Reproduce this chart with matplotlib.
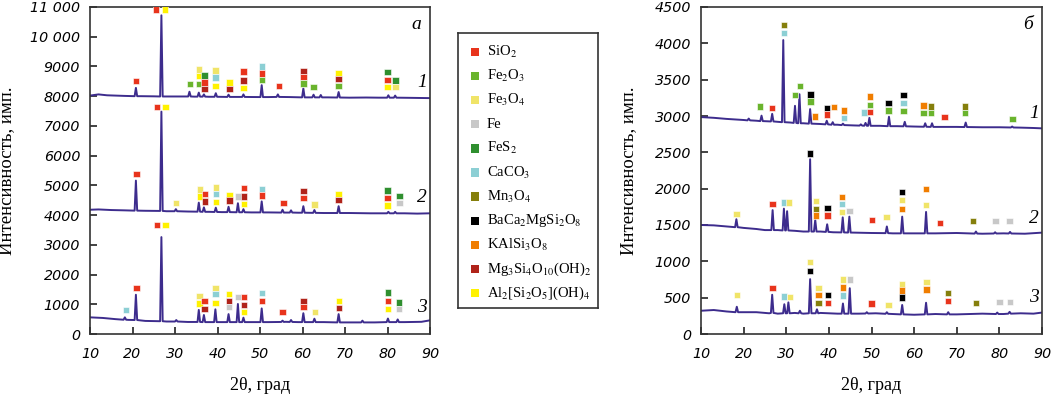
import os
import matplotlib
import matplotlib.pyplot as plt
from matplotlib import font_manager as fm

plt.rcParams['font.family'] = 'Liberation Serif'
plt.rcParams['mathtext.fontset'] = 'stix'

# phases (legend order)
phase_keys = ['SiO2', 'Fe2O3', 'Fe3O4', 'Fe', 'FeS2', 'CaCO3', 'Mn3O4',
              'BaCa', 'KAl', 'Mg', 'Al']
phase_labels = ['SiO$_2$', 'Fe$_2$O$_3$', 'Fe$_3$O$_4$', 'Fe', 'FeS$_2$',
                'CaCO$_3$', 'Mn$_3$O$_4$', 'BaCa$_2$MgSi$_2$O$_8$',
                'KAlSi$_3$O$_8$', 'Mg$_3$Si$_4$O$_{10}$(OH)$_2$',
                'Al$_2$[Si$_2$O$_5$](OH)$_4$']
phase_colors = ['#e8341c', '#6ab42d', '#f0e468', '#c8c8c8', '#2f8f2f',
                '#8ccfd4', '#857f0c', '#000000', '#f07d00', '#b0231a', '#fff200']

x_ticks = [10, 20, 30, 40, 50, 60, 70, 80, 90]
a_yticks = [0, 1000, 2000, 3000, 4000, 5000, 6000, 7000, 8000, 9000, 10000, 11000]
a_ylabels = ['0', '1000', '2000', '3000', '4000', '5000', '6000', '7000',
             '8000', '9000', '10 000', '11 000']
b_yticks = [0, 500, 1000, 1500, 2000, 2500, 3000, 3500, 4000, 4500]

# ---- panel a: baseline knots (2theta, counts) and peaks (pos, foot, top)
a1_bg = [(10, 8020), (12, 8060), (14, 8030), (18, 8010), (22, 8000), (25, 7995),
         (30, 7990), (34.5, 7985), (38, 7980), (44, 7975), (48, 7972), (52, 7970),
         (57, 7970), (66, 7960), (71, 7950), (75, 7955), (78, 7950), (85, 7945), (90, 7935)]
a1_peaks = [(20.8, 8000, 8280), (26.8, 7990, 10720), (33.4, 7990, 8150),
            (35.6, 7985, 8120), (36.8, 7985, 8060), (39.6, 7980, 8100),
            (42.6, 7975, 8050), (46.1, 7975, 8060), (50.4, 7970, 8370),
            (54.2, 7975, 8060), (60.2, 7960, 8260), (62.6, 7960, 8050),
            (64.3, 7960, 8040), (68.5, 7955, 8140), (80.2, 7950, 8030),
            (81.8, 7950, 8020)]

a2_bg = [(10, 4180), (12, 4190), (15, 4170), (18, 4160), (23, 4145), (28, 4130),
         (33, 4120), (38, 4110), (41, 4100), (48, 4090), (52, 4090), (59, 4080),
         (65, 4070), (71, 4070), (76, 4060), (84, 4060), (87, 4050), (90, 4060)]
a2_peaks = [(20.8, 4150, 5160), (26.8, 4140, 7480), (30.2, 4130, 4200),
            (35.6, 4115, 4420), (36.8, 4110, 4260), (39.6, 4105, 4250),
            (42.6, 4100, 4280), (44.8, 4095, 4400), (46.1, 4095, 4200),
            (50.4, 4090, 4460), (55.3, 4085, 4180), (57.3, 4085, 4160),
            (60.2, 4080, 4300), (62.8, 4075, 4170), (68.5, 4070, 4300),
            (80.2, 4060, 4110), (81.8, 4060, 4110)]

a3_bg = [(10, 560), (13, 540), (16, 500), (19, 475), (23, 440), (28, 420),
         (33, 405), (38, 400), (41, 400), (48, 400), (52, 400), (56, 410),
         (59, 400), (65, 400), (71, 390), (77, 390), (84, 400), (88, 410), (90, 460)]
a3_peaks = [(18.2, 480, 560), (20.8, 470, 1320), (26.8, 430, 3260),
            (30.3, 420, 470), (35.6, 405, 810), (36.8, 400, 640),
            (39.5, 400, 830), (42.6, 400, 670), (44.8, 400, 1010),
            (46.1, 400, 550), (50.4, 400, 860), (55.3, 405, 450),
            (57.3, 405, 470), (60.2, 400, 700), (62.8, 400, 515),
            (68.5, 390, 670), (74.1, 390, 450), (80.1, 400, 520),
            (82.4, 400, 490)]

# ---- panel b
b1_bg = [(10, 2985), (13, 2975), (16, 2960), (20, 2945), (23, 2935), (28, 2920),
         (31, 2910), (34, 2900), (38, 2890), (42, 2880), (46, 2870), (52, 2865),
         (56, 2860), (60, 2855), (66, 2850), (70, 2850), (76, 2845), (80, 2845),
         (85, 2840), (88, 2835), (90, 2830)]
b1_peaks = [(21.2, 2940, 2965), (24.2, 2930, 3005), (26.7, 2925, 3030),
            (29.3, 2915, 4045), (32.05, 2905, 3140), (33.1, 2900, 3300),
            (35.6, 2895, 3095), (39.5, 2885, 2935), (40.9, 2880, 2915),
            (43.3, 2875, 2895), (47.5, 2868, 2885), (48.6, 2866, 2905),
            (49.5, 2865, 2975), (54.1, 2860, 2990), (57.8, 2858, 2920),
            (62.6, 2852, 2900), (64.2, 2850, 2900), (72.1, 2848, 2910),
            (83.0, 2842, 2855)]

b2_bg = [(10, 1500), (13, 1495), (16, 1480), (20, 1460), (23, 1445), (25, 1430),
         (28, 1430), (32, 1420), (34, 1410), (38, 1410), (41, 1400), (46, 1395),
         (50, 1390), (55, 1385), (60, 1385), (65, 1385), (70, 1390), (76, 1380),
         (81, 1385), (86, 1380), (90, 1395)]
b2_peaks = [(18.3, 1470, 1580), (26.8, 1430, 1705), (29.45, 1425, 1725),
            (30.2, 1425, 1690), (35.6, 1410, 2405), (36.8, 1410, 1570),
            (39.6, 1405, 1510), (43.25, 1398, 1605), (44.8, 1396, 1615),
            (53.6, 1388, 1480), (57.2, 1385, 1615), (62.8, 1385, 1680),
            (74.5, 1382, 1410), (79.0, 1383, 1400), (82.5, 1383, 1405)]

b3_bg = [(10, 320), (13, 330), (16, 310), (20, 300), (23, 300), (26, 285),
         (28, 280), (32, 290), (34, 280), (38, 290), (42, 280), (47, 280),
         (51, 285), (55, 275), (60, 265), (65, 275), (70, 270), (76, 280),
         (81, 275), (85, 285), (88, 280), (90, 295)]
b3_peaks = [(18.4, 300, 375), (26.7, 290, 540), (29.55, 285, 410),
            (30.5, 285, 435), (33.2, 285, 320), (35.6, 285, 755),
            (37.2, 285, 340), (43.3, 280, 420), (44.9, 280, 630),
            (48.9, 282, 300), (53.6, 278, 300), (57.2, 270, 400),
            (62.8, 270, 430), (68.0, 270, 300), (79.5, 275, 295),
            (82.4, 280, 305)]

# ---- phase markers (2theta, y, phase)
a1_marks = [(20.8, 8520, 'SiO2'), (25.5, 10920, 'SiO2'), (27.6, 10920, 'Al'),
            (33.5, 8400, 'Fe2O3'),
            (35.7, 8900, 'Fe3O4'), (35.7, 8680, 'Al'), (35.7, 8400, 'Fe2O3'),
            (36.9, 8700, 'FeS2'), (36.9, 8455, 'SiO2'), (36.9, 8240, 'Mg'),
            (39.5, 8860, 'Fe3O4'), (39.5, 8625, 'CaCO3'), (39.5, 8350, 'Al'),
            (42.8, 8455, 'Al'), (42.8, 8250, 'Mg'),
            (46.1, 8825, 'SiO2'), (46.1, 8530, 'Mg'), (46.1, 8285, 'Al'),
            (50.4, 9000, 'CaCO3'), (50.4, 8765, 'SiO2'), (50.4, 8545, 'Fe2O3'),
            (54.4, 8350, 'SiO2'),
            (60.2, 8845, 'Mg'), (60.2, 8635, 'SiO2'), (60.2, 8430, 'Fe2O3'),
            (62.6, 8300, 'Fe2O3'),
            (68.5, 8790, 'Al'), (68.5, 8580, 'Mg'), (68.5, 8350, 'Fe2O3'),
            (80.0, 8810, 'FeS2'), (80.0, 8545, 'SiO2'), (80.0, 8300, 'Al'),
            (81.85, 8530, 'FeS2'), (81.85, 8300, 'Fe3O4')]

a2_marks = [(20.9, 5390, 'SiO2'), (25.7, 7645, 'SiO2'), (27.8, 7645, 'Al'),
            (30.2, 4405, 'Fe3O4'),
            (35.9, 4855, 'Fe3O4'), (35.9, 4630, 'Al'),
            (37.0, 4700, 'SiO2'), (37.0, 4460, 'Mg'),
            (39.7, 4925, 'Fe3O4'), (39.7, 4720, 'CaCO3'), (39.7, 4440, 'Al'),
            (42.8, 4685, 'Al'), (42.8, 4485, 'Mg'),
            (44.9, 4630, 'Fe'),
            (46.3, 4910, 'SiO2'), (46.3, 4630, 'Mg'), (46.3, 4375, 'Al'),
            (50.5, 4875, 'CaCO3'), (50.5, 4665, 'SiO2'),
            (55.5, 4405, 'SiO2'),
            (60.2, 4800, 'Mg'), (60.2, 4575, 'SiO2'),
            (62.8, 4360, 'Fe3O4'),
            (68.5, 4710, 'Al'), (68.5, 4505, 'Mg'),
            (80.0, 4830, 'FeS2'), (80.0, 4585, 'SiO2'), (80.0, 4325, 'Al'),
            (82.8, 4640, 'FeS2'), (82.8, 4405, 'Fe')]

a3_marks = [(18.4, 807, 'CaCO3'), (20.9, 1537, 'SiO2'),
            (25.7, 3660, 'SiO2'), (27.8, 3660, 'Al'),
            (35.8, 1278, 'Fe3O4'), (35.8, 1020, 'Al'),
            (36.9, 1120, 'SiO2'), (36.9, 850, 'Mg'),
            (39.5, 1537, 'Fe3O4'), (39.5, 1345, 'CaCO3'), (39.5, 1053, 'Al'),
            (42.7, 1335, 'Al'), (42.7, 1120, 'Mg'), (42.7, 918, 'Fe'),
            (44.8, 1255, 'Fe'),
            (46.2, 1255, 'SiO2'), (46.2, 965, 'Mg'), (46.2, 730, 'Al'),
            (50.5, 1380, 'CaCO3'), (50.5, 1120, 'SiO2'),
            (55.3, 730, 'SiO2'),
            (60.2, 1110, 'Mg'), (60.2, 918, 'SiO2'),
            (62.9, 730, 'Fe3O4'),
            (68.6, 1100, 'Al'), (68.6, 885, 'Mg'),
            (80.1, 1390, 'FeS2'), (80.1, 1100, 'SiO2'), (80.1, 840, 'Al'),
            (82.7, 1065, 'FeS2'), (82.7, 840, 'Fe')]

b1_marks = [(23.9, 3133, 'Fe2O3'), (26.7, 3110, 'SiO2'),
            (29.4, 4248, 'Mn3O4'), (29.4, 4146, 'CaCO3'),
            (32.05, 3289, 'Fe2O3'), (33.2, 3417, 'Fe2O3'),
            (35.65, 3298, 'BaCa'), (35.65, 3202, 'Fe2O3'),
            (36.8, 2995, 'KAl'),
            (39.5, 3110, 'BaCa'), (39.5, 3023, 'SiO2'),
            (41.2, 3128, 'KAl'),
            (43.5, 3078, 'KAl'), (43.5, 2972, 'CaCO3'),
            (48.4, 3050, 'CaCO3'),
            (49.6, 3270, 'KAl'), (49.6, 3155, 'Fe2O3'), (49.6, 3055, 'SiO2'),
            (54.0, 3183, 'BaCa'), (54.0, 3078, 'Fe2O3'),
            (57.55, 3293, 'BaCa'), (57.55, 3183, 'CaCO3'), (57.55, 3069, 'Fe2O3'),
            (62.2, 3142, 'KAl'), (62.2, 3037, 'Fe2O3'),
            (64.0, 3133, 'Mn3O4'), (64.0, 3037, 'Fe2O3'),
            (67.1, 2990, 'SiO2'),
            (71.9, 3133, 'Mn3O4'), (71.9, 3037, 'Fe2O3'),
            (83.1, 2963, 'Fe2O3')]

b2_marks = [(18.3, 1651, 'Fe3O4'), (26.8, 1793, 'SiO2'),
            (29.5, 1812, 'CaCO3'), (30.6, 1812, 'Fe3O4'),
            (35.6, 2486, 'BaCa'),
            (37.0, 1834, 'Fe3O4'), (37.0, 1716, 'Mn3O4'), (37.0, 1633, 'KAl'),
            (39.7, 1738, 'BaCa'), (39.7, 1633, 'SiO2'),
            (43.15, 1889, 'KAl'), (43.15, 1789, 'CaCO3'), (43.15, 1683, 'Fe3O4'),
            (44.8, 1693, 'Fe'),
            (50.1, 1569, 'SiO2'),
            (53.55, 1606, 'Fe3O4'),
            (57.2, 1950, 'BaCa'), (57.2, 1840, 'Fe3O4'), (57.2, 1716, 'KAl'),
            (62.8, 1995, 'KAl'), (62.8, 1771, 'Fe3O4'),
            (66.1, 1527, 'SiO2'),
            (73.8, 1555, 'Mn3O4'), (79.05, 1555, 'Fe'), (82.4, 1555, 'Fe')]

b3_marks = [(18.45, 537, 'Fe3O4'), (26.8, 637, 'SiO2'),
            (29.5, 514, 'CaCO3'), (30.9, 505, 'Fe3O4'),
            (35.6, 995, 'Fe3O4'), (35.6, 871, 'BaCa'),
            (37.6, 637, 'Fe3O4'), (37.6, 537, 'KAl'), (37.6, 427, 'Mn3O4'),
            (39.8, 541, 'BaCa'), (39.8, 427, 'SiO2'),
            (43.3, 752, 'Fe3O4'), (43.3, 642, 'KAl'), (43.3, 532, 'CaCO3'),
            (44.95, 752, 'Fe'),
            (50.0, 422, 'SiO2'),
            (54.0, 399, 'Fe3O4'),
            (57.15, 683, 'Fe3O4'), (57.15, 601, 'KAl'), (57.15, 500, 'BaCa'),
            (62.9, 716, 'Fe3O4'), (62.9, 610, 'KAl'),
            (68.0, 560, 'Mn3O4'), (68.0, 454, 'SiO2'),
            (74.5, 427, 'Mn3O4'),
            (80.0, 436, 'Fe'), (82.5, 436, 'Fe')]

line_color = '#3d2c8d'
color_of = dict(zip(phase_keys, phase_colors))

# oblique sans for the tick labels, straight from matplotlib's own font folder
tick_fp = fm.FontProperties(
    fname=os.path.join(matplotlib.get_data_path(), 'fonts', 'ttf',
                       'DejaVuSans-Oblique.ttf'), size=10.3)


def build_curve(bg, peaks, w=0.3):
    # baseline knots away from peaks + three points per peak
    pts = [p for p in bg if all(abs(p[0] - pk[0]) > w + 0.05 for pk in peaks)]
    for pos, foot, top in peaks:
        pts += [(pos - w, foot), (pos, top), (pos + w, foot)]
    pts.sort()
    xs, ys = zip(*pts)
    return xs, ys


def draw_marks(ax, marks):
    ax.scatter([m[0] for m in marks], [m[1] for m in marks],
               c=[color_of[m[2]] for m in marks], marker='s', s=21,
               edgecolors='white', linewidths=0.4, zorder=3)


fig = plt.figure(figsize=(10.52, 3.99), dpi=100)
ax_a = fig.add_axes([90 / 1052, 65 / 399, 340 / 1052, 327 / 399])
ax_b = fig.add_axes([701 / 1052, 65 / 399, 341 / 1052, 327 / 399])

panels = [
    (ax_a, [(a1_bg, a1_peaks, a1_marks), (a2_bg, a2_peaks, a2_marks),
            (a3_bg, a3_peaks, a3_marks)], 11000, a_yticks, a_ylabels, 'а',
     [8476, 4575, 875], 11),
    (ax_b, [(b1_bg, b1_peaks, b1_marks), (b2_bg, b2_peaks, b2_marks),
            (b3_bg, b3_peaks, b3_marks)], 4500, b_yticks,
     [str(v) for v in b_yticks], 'б', [3041, 1596, 509], 13),
]

for ax, curves, ymax, yticks, ylabels, letter, num_y, ypad in panels:
    for bg, peaks, marks in curves:
        xs, ys = build_curve(bg, peaks)
        ax.plot(xs, ys, color=line_color, lw=1.4, zorder=2)
        draw_marks(ax, marks)
    ax.set_xlim(10, 90)
    ax.set_ylim(0, ymax)
    ax.set_xticks(x_ticks)
    ax.set_yticks(yticks)
    ax.tick_params(direction='in', length=5, width=1.2, top=False, right=False,
                   colors='#222222', labelcolor='black')
    ax.tick_params(axis='x', pad=9)
    ax.tick_params(axis='y', pad=7)
    ax.set_xticklabels([str(v) for v in x_ticks], fontproperties=tick_fp)
    ax.set_yticklabels(ylabels, fontproperties=tick_fp)
    for sp in ax.spines.values():
        sp.set_color('#333333')
        sp.set_linewidth(1.2)
    ax.set_xlabel('2θ, град', fontsize=13, labelpad=12)
    ax.set_ylabel('Интенсивность, имп.', fontsize=13.5, labelpad=ypad)
    ax.text(0.96, 0.945, letter, transform=ax.transAxes, fontsize=14,
            style='italic', ha='center', va='center')
    for i, yv in enumerate(num_y):
        ax.text(88.2, yv, str(i + 1), fontsize=14, style='italic',
                ha='center', va='center')

# legend box drawn in its own axes (pixel-like coordinates, y down)
ax_leg = fig.add_axes([458 / 1052, (399 - 308) / 399, 140 / 1052, 275 / 399])
ax_leg.set_xlim(0, 140)
ax_leg.set_ylim(275, 0)
ax_leg.set_xticks([])
ax_leg.set_yticks([])
for sp in ax_leg.spines.values():
    sp.set_color('#333333')
    sp.set_linewidth(1.2)
for i, (lab, col) in enumerate(zip(phase_labels, phase_colors)):
    yy = 19 + 24.1 * i
    ax_leg.scatter([17], [yy], marker='s', s=36, color=col, edgecolors='none')
    ax_leg.text(29, yy, lab, fontsize=10.5, ha='left', va='center')

fig.savefig('out.png', dpi=100)
